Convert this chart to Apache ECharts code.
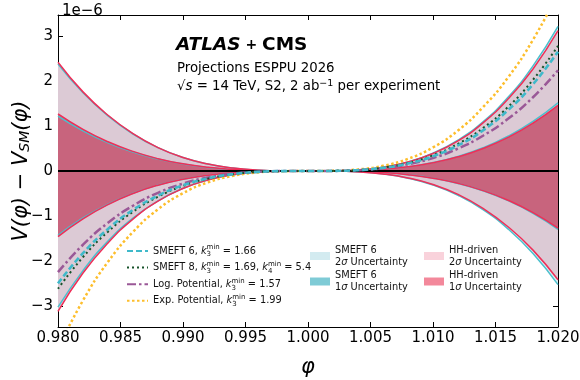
<!DOCTYPE html>
<html>
<head>
<meta charset="utf-8">
<script src="https://cdn.jsdelivr.net/npm/echarts@6/dist/echarts.min.js"></script>
<style>
html,body{margin:0;padding:0;background:#fff;}
#chart{width:580px;height:380px;}
</style>
</head>
<body>
<div id="chart"></div>
<script>
// ---- data (values in units of 1e-6) ----
const phi = [0.980,0.982,0.984,0.986,0.988,0.990,0.992,0.994,0.996,0.998,1.000,1.002,1.004,1.006,1.008,1.010,1.012,1.014,1.016,1.018,1.020];
const xTicks = [0.980,0.985,0.990,0.995,1.000,1.005,1.010,1.015,1.020];
const yTicks = [-3,-2,-1,0,1,2,3];

const hh2Upper = [2.42,1.76,1.24,0.83,0.52,0.30,0.155,0.065,0.019,0.002,0,0.003,0.025,0.084,0.20,0.39,0.67,1.07,1.60,2.27,3.12];
const hh2Lower = [-3.12,-2.27,-1.60,-1.07,-0.67,-0.39,-0.20,-0.084,-0.025,-0.003,0,-0.002,-0.019,-0.065,-0.155,-0.30,-0.52,-0.83,-1.24,-1.76,-2.42];
const hh1Upper = [1.27,0.926,0.650,0.436,0.274,0.159,0.081,0.034,0.010,0.001,0,0.0015,0.012,0.039,0.093,0.183,0.315,0.501,0.748,1.064,1.46];
const hh1Lower = [-1.46,-1.064,-0.748,-0.501,-0.315,-0.183,-0.093,-0.039,-0.012,-0.0015,0,-0.001,-0.010,-0.034,-0.081,-0.159,-0.274,-0.436,-0.650,-0.926,-1.27];
const sm2Upper = [2.38,1.74,1.226,0.823,0.521,0.302,0.155,0.067,0.019,0.002,0,0.003,0.024,0.085,0.203,0.397,0.688,1.094,1.639,2.339,3.218];
const sm2Lower = [-3.03,-2.215,-1.560,-1.048,-0.664,-0.385,-0.197,-0.085,-0.024,-0.003,0,-0.002,-0.019,-0.067,-0.159,-0.312,-0.540,-0.859,-1.288,-1.837,-2.527];
const sm1Upper = [1.22,0.892,0.628,0.422,0.267,0.155,0.079,0.034,0.010,0.001,0,0.0014,0.011,0.040,0.096,0.187,0.325,0.516,0.774,1.104,1.519];
const sm1Lower = [-1.43,-1.045,-0.736,-0.495,-0.313,-0.182,-0.093,-0.040,-0.011,-0.0014,0,-0.001,-0.010,-0.034,-0.082,-0.160,-0.277,-0.440,-0.660,-0.942,-1.296];

const smeft6 = [-2.50,-1.828,-1.288,-0.865,-0.548,-0.318,-0.163,-0.070,-0.020,-0.0025,0,0.0025,0.020,0.070,0.168,0.328,0.568,0.903,1.353,1.930,2.655];
const smeft8 = [-2.62,-1.915,-1.349,-0.907,-0.574,-0.333,-0.170,-0.073,-0.021,-0.0026,0,0.0026,0.021,0.075,0.180,0.350,0.605,0.955,1.425,2.030,2.782];
const logPot = [-2.25,-1.64,-1.152,-0.772,-0.486,-0.281,-0.144,-0.061,-0.018,-0.002,0,0.002,0.018,0.062,0.148,0.290,0.498,0.785,1.160,1.640,2.24];
const expPot = [-3.95,-2.88,-2.02,-1.355,-0.853,-0.494,-0.253,-0.107,-0.032,-0.004,0,0.004,0.034,0.115,0.270,0.525,0.900,1.420,2.08,2.92,3.95];

const curveNames = ['SMEFT 6','SMEFT 8','Log. Potential','Exp. Potential'];
const curveLabels = {
  'SMEFT 6': 'SMEFT 6, {i|k}{sub|3}{sup|min} = 1.66',
  'SMEFT 8': 'SMEFT 8, {i|k}{sub|3}{sup|min} = 1.69, {i|k}{sub|4}{sup|min} = 5.4',
  'Log. Potential': 'Log. Potential, {i|k}{sub|3}{sup|min} = 1.57',
  'Exp. Potential': 'Exp. Potential, {i|k}{sub|3}{sup|min} = 1.99'
};
const bandNamesSM = ['SMEFT 6 2s','SMEFT 6 1s'];
const bandNamesHH = ['HH-driven 2s','HH-driven 1s'];
const bandLabels = {
  'SMEFT 6 2s': 'SMEFT 6\n2{i|σ} Uncertainty',
  'SMEFT 6 1s': 'SMEFT 6\n1{i|σ} Uncertainty',
  'HH-driven 2s': 'HH-driven\n2{i|σ} Uncertainty',
  'HH-driven 1s': 'HH-driven\n1{i|σ} Uncertainty'
};

// ---- styles ----
const FONT = 'DejaVu Sans';
const C = {
  teal: '#4cbfcd', red: '#ee2f58',
  sm2Fill: '#d9eef2', sm1Fill: '#9fcfd8',
  hh2Fill: '#dccad5', hh1Fill: '#c8647d',
  sm2Patch: '#d3ebf0', sm1Patch: '#7fcbd6', hh2Patch: '#f9d2db', hh1Patch: '#f3889b',
  dash: '#3fb9ca', green: '#17532b', purple: '#9a5897', orange: '#fdbe2c'
};

const pts = arr => phi.map((x, i) => [x, arr[i]]);
const SMOOTH = 0.5;

function fill(arr, color, z) {
  return { type: 'line', data: pts(arr), smooth: SMOOTH, showSymbol: false, symbol: 'none',
    lineStyle: { width: 0, opacity: 0 }, areaStyle: { color: color, opacity: 1 }, z: z, silent: true };
}
function edge(arr, color, z) {
  return { type: 'line', data: pts(arr), smooth: SMOOTH, showSymbol: false, symbol: 'none',
    lineStyle: { width: 1.5, color: color }, z: z, silent: true };
}
function curve(name, arr, color, width, dash) {
  return { name: name, type: 'line', data: pts(arr), smooth: SMOOTH, showSymbol: false, symbol: 'none',
    color: color, lineStyle: { width: width, color: color, type: dash, cap: 'butt' }, z: 5, silent: true };
}
function dummy(name, color) {
  return { name: name, type: 'line', data: [], color: color, itemStyle: { color: color }, lineStyle: { color: color } };
}

const series = [
  fill(sm2Upper, C.sm2Fill, 1), fill(sm2Lower, C.sm2Fill, 1),
  fill(hh2Upper, C.hh2Fill, 1), fill(hh2Lower, C.hh2Fill, 1),
  fill(sm1Upper, C.sm1Fill, 1), fill(sm1Lower, C.sm1Fill, 1),
  fill(hh1Upper, C.hh1Fill, 1), fill(hh1Lower, C.hh1Fill, 1),
  edge(sm2Upper, C.teal, 3), edge(sm2Lower, C.teal, 3), edge(sm1Upper, C.teal, 3), edge(sm1Lower, C.teal, 3),
  edge(hh2Upper, C.red, 3), edge(hh2Lower, C.red, 3), edge(hh1Upper, C.red, 3), edge(hh1Lower, C.red, 3),
  curve('Exp. Potential', expPot, C.orange, 2.5, [2.5, 2.5]),
  curve('Log. Potential', logPot, C.purple, 2.5, [9, 3, 2.5, 3]),
  curve('SMEFT 8', smeft8, C.green, 2, [2, 3]),
  curve('SMEFT 6', smeft6, C.dash, 2.6, [6, 3]),
  dummy(bandNamesSM[0], C.sm2Patch), dummy(bandNamesSM[1], C.sm1Patch),
  dummy(bandNamesHH[0], C.hh2Patch), dummy(bandNamesHH[1], C.hh1Patch)
];
// zero line
series[19].markLine = { silent: true, symbol: 'none', label: { show: false }, animation: false,
  lineStyle: { color: '#000', width: 2.2, type: 'solid' }, data: [{ yAxis: 0 }] };

const LF = 9.8;
const richSmall = {
  i: { fontStyle: 'italic', fontSize: LF, fontFamily: FONT, color: '#111' },
  sub: { fontSize: 7, verticalAlign: 'bottom', fontFamily: FONT, color: '#111', padding: [5, 0, 0, 0], width: 0 },
  sup: { fontSize: 7, verticalAlign: 'top', fontFamily: FONT, color: '#111', padding: [0, 0, 4, 0] }
};
const noSymbol = { color: 'rgba(0,0,0,0)', borderColor: 'rgba(0,0,0,0)', borderWidth: 0, opacity: 0 };

const option = {
  animation: false,
  backgroundColor: '#fff',
  textStyle: { fontFamily: FONT },
  grid: { left: 58, right: 22, top: 15, bottom: 53, outerBoundsMode: 'none', containLabel: false },
  title: [
    { text: '{a|ATLAS}{p| + }{c|CMS}', left: 171, top: 31,
      textStyle: { rich: {
        a: { fontFamily: FONT, fontWeight: 'bold', fontStyle: 'italic', fontSize: 18.5, color: '#000' },
        p: { fontFamily: FONT, fontSize: 14, color: '#000' },
        c: { fontFamily: FONT, fontWeight: 'bold', fontSize: 18.5, color: '#000' } } } },
    { text: 'Projections ESPPU 2026', left: 172, top: 57,
      textStyle: { fontFamily: FONT, fontSize: 13.3, fontWeight: 'normal', color: '#000' } },
    { text: '√{i|s} = 14 TeV, S2, 2 ab{sup|−1} per experiment', left: 172, top: 74,
      textStyle: { fontFamily: FONT, fontSize: 13.3, fontWeight: 'normal', color: '#000',
        rich: { i: { fontStyle: 'italic', fontSize: 13.3, fontFamily: FONT, color: '#000' },
                sup: { fontSize: 9.5, verticalAlign: 'top', fontFamily: FONT, color: '#000', padding: [0, 0, 5, 0] } } } },
    { text: '1e−6', left: 57, top: -1,
      textStyle: { fontFamily: FONT, fontSize: 15, fontWeight: 'normal', color: '#000' } }
  ],
  legend: [
    { data: curveNames, orient: 'vertical', left: 126, top: 244, itemWidth: 21, itemHeight: 8, itemGap: 2.6,
      selectedMode: false, padding: 0, itemStyle: noSymbol,
      formatter: n => curveLabels[n],
      textStyle: { fontFamily: FONT, fontSize: LF, color: '#111', lineHeight: 14, rich: richSmall } },
    { data: bandNamesSM.map((n, i) => ({ name: n, icon: 'rect', itemStyle: { color: [C.sm2Patch, C.sm1Patch][i] } })),
      orient: 'vertical', left: 310, top: 244, itemWidth: 20, itemHeight: 8, itemGap: 1.5, selectedMode: false, padding: 0,
      formatter: n => bandLabels[n],
      textStyle: { fontFamily: FONT, fontSize: LF, color: '#111', lineHeight: 12, rich: { i: { fontStyle: 'italic', fontSize: LF, fontFamily: FONT, color: '#111', lineHeight: 12 } } } },
    { data: bandNamesHH.map((n, i) => ({ name: n, icon: 'rect', itemStyle: { color: [C.hh2Patch, C.hh1Patch][i] } })),
      orient: 'vertical', left: 424, top: 244, itemWidth: 20, itemHeight: 8, itemGap: 1.5, selectedMode: false, padding: 0,
      formatter: n => bandLabels[n],
      textStyle: { fontFamily: FONT, fontSize: LF, color: '#111', lineHeight: 12, rich: { i: { fontStyle: 'italic', fontSize: LF, fontFamily: FONT, color: '#111', lineHeight: 12 } } } }
  ],
  xAxis: [
    { type: 'value', position: 'bottom', min: xTicks[0], max: xTicks[xTicks.length - 1], interval: xTicks[1] - xTicks[0],
      name: 'φ', nameLocation: 'middle', nameGap: 30, nameMoveOverlap: false,
      nameTextStyle: { fontFamily: FONT, fontStyle: 'italic', fontSize: 21, color: '#000' },
      axisLine: { show: true, onZero: false, lineStyle: { color: '#000', width: 1 } },
      axisTick: { show: true, inside: true, length: 5, lineStyle: { color: '#000', width: 1 } },
      axisLabel: { fontFamily: FONT, fontSize: 15, color: '#000', margin: 4, formatter: v => v.toFixed(3) },
      splitLine: { show: false } },
    { type: 'value', position: 'top', min: xTicks[0], max: xTicks[xTicks.length - 1], interval: xTicks[1] - xTicks[0],
      axisLine: { show: true, onZero: false, lineStyle: { color: '#000', width: 1 } },
      axisTick: { show: true, inside: true, length: 5, lineStyle: { color: '#000', width: 1 } },
      axisLabel: { show: false }, splitLine: { show: false } }
  ],
  yAxis: [
    { type: 'value', position: 'left', min: -3.47, max: 3.47,
      name: '{v|V}(φ) − {v|V}{s|SM}(φ)', nameLocation: 'middle', nameGap: 26, nameRotate: 90, nameMoveOverlap: false,
      nameTextStyle: { fontFamily: FONT, fontStyle: 'italic', fontSize: 21, color: '#000',
        rich: { v: { fontFamily: FONT, fontStyle: 'italic', fontSize: 21, color: '#000' },
                s: { fontFamily: FONT, fontStyle: 'italic', fontSize: 14, color: '#000', verticalAlign: 'bottom', padding: [6, 0, 0, 0] } } },
      axisLine: { show: true, onZero: false, lineStyle: { color: '#000', width: 1 } },
      axisTick: { show: true, inside: true, length: 5, customValues: yTicks, lineStyle: { color: '#000', width: 1 } },
      axisLabel: { fontFamily: FONT, fontSize: 15, color: '#000', margin: 5, customValues: yTicks,
        formatter: v => (v < 0 ? '−' + Math.abs(Math.round(v)) : String(Math.round(v))) },
      splitLine: { show: false } },
    { type: 'value', position: 'right', min: -3.47, max: 3.47,
      axisLine: { show: true, onZero: false, lineStyle: { color: '#000', width: 1 } },
      axisTick: { show: true, inside: true, length: 5, customValues: yTicks, lineStyle: { color: '#000', width: 1 } },
      axisLabel: { show: false }, splitLine: { show: false } }
  ],
  series: series
};

const chart = echarts.init(document.getElementById('chart'), null, { renderer: 'canvas' });
chart.setOption(option);
</script>
</body>
</html>
